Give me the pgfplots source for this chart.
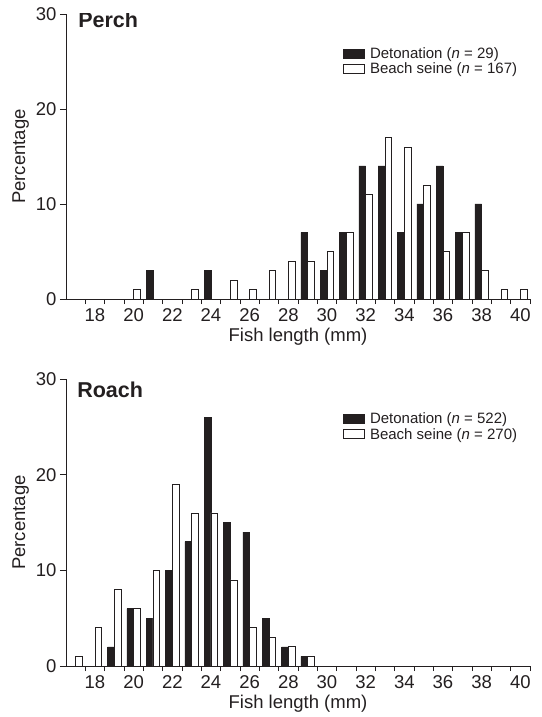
\documentclass[border=0pt]{standalone}
\usepackage{fontspec}
\setmainfont{Liberation Sans}
\usepackage{pgfplots}
\pgfplotsset{compat=1.18}
\definecolor{ink}{HTML}{231F20}

\pgfplotsset{
  fishhist/.style={
    scale only axis, width=464pt,
    xmin=16.5, xmax=40.5, ymin=0, ymax=30,
    axis x line=bottom, axis y line=left,
    axis line style={ink, line width=0.8pt, -},
    xtick={18,20,...,40}, major x tick style={draw=none},
    minor xtick={17.5,18.5,...,40.5},
    ytick={0,10,20,30},
    tick align=outside, tick style={ink, line width=0.8pt},
    major tick length=6pt, minor tick length=5pt,
    ticklabel style={font=\fontsize{18.5}{22}\selectfont, text=ink},
    /pgf/number format/assume math mode=true,
    xlabel={Fish length (mm)}, ylabel={Percentage},
    label style={font=\fontsize{18.5}{22}\selectfont, text=ink},
    ybar, bar width=0.35,
    legend image code/.code={\draw[#1] (0pt,-4.5pt) rectangle (21pt,4.5pt);},
    legend style={draw=none, fill=none, anchor=north west,
      font=\fontsize{15}{17}\selectfont, text=ink, inner sep=0pt,
      row sep=-1pt, nodes={inner xsep=5pt}},
    legend cell align=left,
  },
  det/.style={fill=ink, draw=ink, line width=0.6pt, bar shift=-0.175},
  sei/.style={fill=white, draw=ink, line width=0.8pt, bar shift=0.175},
}

\begin{document}
\begin{tikzpicture}
\path[use as bounding box] (-66pt,-418pt) rectangle (475pt,299pt);

% Perch
\begin{axis}[fishhist, height=285pt,
    legend style={at={(rel axis cs:0.597,0.89)}}]
\addplot[det] coordinates {
  (21,3) (24,3) (29,7) (30,3) (31,7) (32,14) (33,14)
  (34,7) (35,10) (36,14) (37,7) (38,10)};
\addlegendentry{Detonation (\textit{n} = 29)}
\addplot[sei] coordinates {
  (20,1) (23,1) (25,2) (26,1) (27,3) (28,4) (29,4) (30,5) (31,7)
  (32,11) (33,17) (34,16) (35,12) (36,5) (37,7) (38,3) (39,1) (40,1)};
\addlegendentry{Beach seine (\textit{n} = 167)}
\node[anchor=base west, inner sep=0pt, font=\fontsize{21.5}{25}\selectfont\bfseries, text=ink]
  at (rel axis cs:0.026,0.954) {Perch};
\end{axis}

% Roach
\begin{axis}[fishhist, height=287pt, at={(0pt,-367pt)},
    legend style={at={(rel axis cs:0.597,0.89)}}]
\addplot[det] coordinates {
  (19,2) (20,6) (21,5) (22,10) (23,13) (24,26) (25,15)
  (26,14) (27,5) (28,2) (29,1)};
\addlegendentry{Detonation (\textit{n} = 522)}
\addplot[sei] coordinates {
  (17,1) (18,4) (19,8) (20,6) (21,10) (22,19) (23,16)
  (24,16) (25,9) (26,4) (27,3) (28,2) (29,1)};
\addlegendentry{Beach seine (\textit{n} = 270)}
\node[anchor=base west, inner sep=0pt, font=\fontsize{21.5}{25}\selectfont\bfseries, text=ink]
  at (rel axis cs:0.024,0.937) {Roach};
\end{axis}
\end{tikzpicture}
\end{document}
